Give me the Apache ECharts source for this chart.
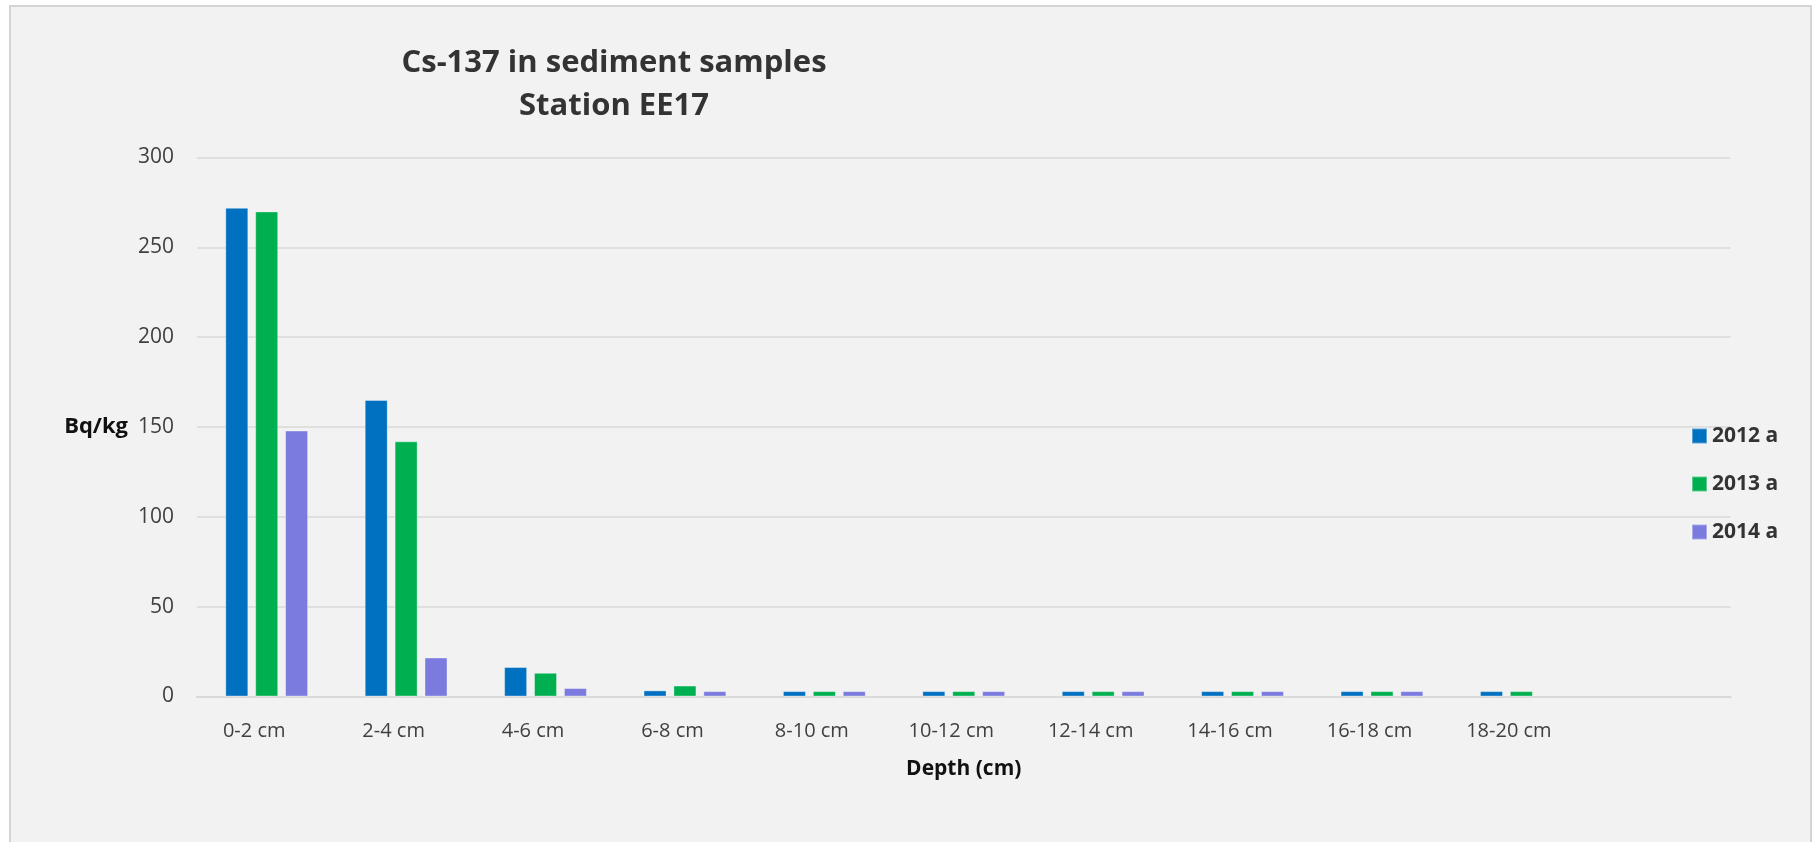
<!DOCTYPE html>
<html>
<head>
<meta charset="utf-8">
<script src="https://cdn.jsdelivr.net/npm/echarts@6/dist/echarts.min.js"></script>
<style>
  html, body { margin: 0; padding: 0; background: #ffffff; width: 1815px; height: 842px; overflow: hidden; }
  #box { position: absolute; left: 9px; top: 5px; width: 1799px; height: 840px; background: #f2f2f2;
         border-left: 2px solid #d4d4d4; border-top: 2px solid #d4d4d4; border-right: 2px solid #d4d4d4; }
  #chart { position: absolute; left: 0; top: 0; width: 1815px; height: 842px; }
</style>
</head>
<body>
<div id="box"></div>
<div id="chart"></div>
<script>
const categories = ['0-2 cm', '2-4 cm', '4-6 cm', '6-8 cm', '8-10 cm', '10-12 cm', '12-14 cm', '14-16 cm', '16-18 cm', '18-20 cm', ''];
const seriesNames = ['2012 a', '2013 a', '2014 a'];
const values2012 = [272, 165, 16.4, 3.4, 3, 3, 3, 3, 3, 3, null];
const values2013 = [270, 142, 13.2, 6.1, 3, 3, 3, 3, 3, 3, null];
const values2014 = [148, 21.7, 4.7, 3, 3, 3, 3, 3, 3, null, null];
const yTicks = { min: 0, max: 300, interval: 50 };
const colors = ['#0070C0', '#00B050', '#7B7BDF'];

const font = '"Open Sans", "Liberation Sans", sans-serif';
const chart = echarts.init(document.getElementById('chart'), null, { renderer: 'canvas' });

const allValues = [values2012, values2013, values2014];
chart.setOption({
  backgroundColor: 'transparent',
  animation: false,
  color: colors,
  title: {
    text: 'Cs-137 in sediment samples\nStation EE17',
    left: 614,
    top: 42,
    padding: 0,
    textAlign: 'center',
    textStyle: { fontFamily: font, fontSize: 31, fontWeight: 'bold', color: '#333333', lineHeight: 43 }
  },
  legend: {
    orient: 'vertical',
    left: 1686,
    top: 420,
    itemWidth: 15,
    itemHeight: 15,
    itemGap: 26,
    icon: 'rect',
    data: seriesNames,
    textStyle: { fontFamily: font, fontSize: 21, fontWeight: 'bold', color: '#333333', lineHeight: 22, padding: [0, 0, 0, 0] }
  },
  grid: { left: 197, right: 84.5, top: 157.5, bottom: 145.5, containLabel: false },
  xAxis: {
    type: 'category',
    data: categories,
    name: 'Depth (cm)',
    nameLocation: 'middle',
    nameGap: 62,
    nameTextStyle: { fontFamily: font, fontSize: 21, fontWeight: 'bold', color: '#111111' },
    axisLine: { show: true, lineStyle: { color: '#d9d9d9', width: 2 } },
    axisTick: { show: false },
    axisLabel: { fontFamily: font, fontSize: 20, color: '#404040', margin: 25, padding: [0, 25, 0, 0], interval: 0 },
    splitLine: { show: false }
  },
  yAxis: {
    type: 'value',
    min: yTicks.min,
    max: yTicks.max,
    interval: yTicks.interval,
    name: 'Bq/kg',
    nameLocation: 'middle',
    nameRotate: 0,
    nameGap: 69,
    nameTextStyle: { fontFamily: font, fontSize: 22, fontWeight: 'bold', color: '#111111', padding: [4, 0, 0, 0] },
    axisLine: { show: false },
    axisTick: { show: false },
    axisLabel: { fontFamily: font, fontSize: 21, color: '#404040', margin: 23 },
    splitLine: { show: true, lineStyle: { color: '#d9d9d9', width: 1.5 } }
  },
  series: seriesNames.map((name, i) => ({
    name: name,
    type: 'bar',
    data: allValues[i],
    barWidth: 23,
    barGap: '30%',
    itemStyle: { color: colors[i], borderColor: 'rgba(255,255,255,0.35)', borderWidth: 1 }
  }))
});
</script>
</body>
</html>
